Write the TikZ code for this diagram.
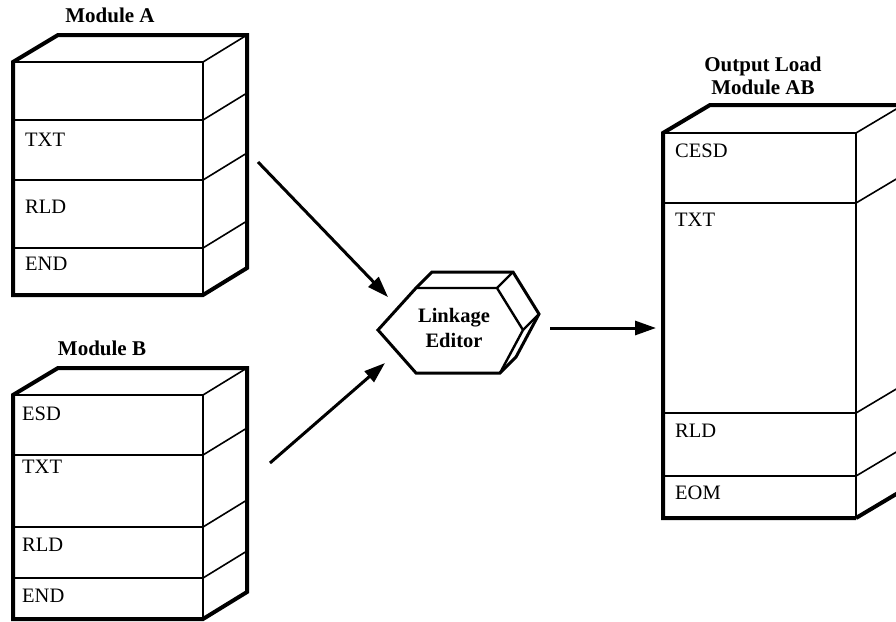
\documentclass[tikz,border=0pt]{standalone}
\usepackage{fontspec}
\setmainfont{Liberation Serif}
\usetikzlibrary{arrows.meta}

\tikzset{
  heavy/.style={line width=4pt,line join=miter},
  light/.style={line width=1.6pt},
  flow/.style={line width=3pt,-{Triangle[length=21pt,width=14pt]}},
  title/.style={font=\fontsize{21}{23}\selectfont\bfseries,align=center,inner sep=0pt},
  field/.style={font=\fontsize{20.5}{24}\selectfont,anchor=west,inner sep=0pt},
}

\begin{document}
\begin{tikzpicture}[x=1pt,y=-1pt]
  \useasboundingbox (0,0) rectangle (896,621);
  \clip (0,0) rectangle (896,621);

  \node[title] (titleA) at (110,15) {Module A};
  \draw[heavy] (13,295) -- (13,62) -- (58,35) -- (247,35) -- (247,268) -- (203,295) -- cycle;
  \draw[light] (13,62) -- (203,62) -- (247,35);
  \draw[light] (203,62) -- (203,295);
  \foreach \y in {120,180,248}
    \draw[light] (13,\y) -- (203,\y) -- (247,\y-27);
  \node[field] (txtA) at (25,140) {TXT};
  \node[field] (rldA) at (25,207) {RLD};
  \node[field] (endA) at (25,264) {END};

  \node[title] (titleB) at (102,348) {Module B};
  \draw[heavy] (13,619) -- (13,395) -- (58,368) -- (247,368) -- (247,592) -- (203,619) -- cycle;
  \draw[light] (13,395) -- (203,395) -- (247,368);
  \draw[light] (203,395) -- (203,619);
  \foreach \y in {455,527,578}
    \draw[light] (13,\y) -- (203,\y) -- (247,\y-27);
  \node[field] (esdB) at (22,414) {ESD};
  \node[field] (txtB) at (22,467) {TXT};
  \node[field] (rldB) at (22,545) {RLD};
  \node[field] (endB) at (22,596) {END};

  \node[title] (titleAB) at (763,76) {Output Load\\Module AB};
  \draw[heavy] (856,518) -- (663,518) -- (663,133) -- (710,105) -- (903,105);
  \draw[heavy] (856,518) -- (903,490);
  \draw[light] (663,133) -- (856,133) -- (903,105);
  \draw[light] (856,133) -- (856,518);
  \foreach \y in {203,413,476}
    \draw[light] (663,\y) -- (856,\y) -- (903,\y-28);
  \node[field] (cesd) at (675,151) {CESD};
  \node[field] (txtAB) at (675,220) {TXT};
  \node[field] (rldAB) at (675,431) {RLD};
  \node[field] (eom) at (675,493) {EOM};

  \draw[line width=3pt,line join=miter]
    (378,330) -- (416,288) -- (432,272) -- (513,272) -- (539,314) -- (516,357)
    -- (500,373) -- (416,373) -- cycle;
  \draw[line width=2.4pt,line join=miter]
    (416,288) -- (497,288) -- (523,330) -- (500,373);
  \draw[line width=2.4pt] (497,288) -- (513,272);
  \draw[line width=2.4pt] (523,330) -- (539,314);
  \node[title,font=\fontsize{20.5}{25}\selectfont\bfseries] (editor) at (454,328) {Linkage\\Editor};

  \coordinate (outA) at (258,162);
  \coordinate (outB) at (270,463);
  \coordinate (inA) at (388,297);
  \coordinate (inB) at (385,363);
  \coordinate (outEd) at (550,328);
  \coordinate (inAB) at (656,328);
  \draw[flow] (outA) -- (inA);
  \draw[flow] (outB) -- (inB);
  \draw[flow] (outEd) -- (inAB);
\end{tikzpicture}
\end{document}
